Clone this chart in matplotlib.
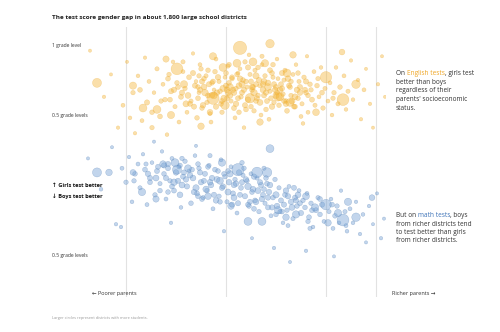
import matplotlib
matplotlib.use("Agg")
import matplotlib.pyplot as plt

plt.rcParams['font.family'] = ['Open Sans', 'DejaVu Sans']

# English tests: socioeconomic status, gap in grade levels (+ = girls better), students (thousands)
eng_ses = [
    -2.36, -2.22, -2.15, -2.08, -2.03, -1.99, -1.96, -1.93, -1.91, -1.88,
    -1.86, -1.84, -1.81, -1.79, -1.77, -1.74, -1.72, -1.69, -1.66, -1.63,
    -1.61, -1.59, -1.57, -1.55, -1.53, -1.51, -1.49, -1.47, -1.45, -1.43,
    -1.41, -1.39, -1.37, -1.35, -1.33, -1.31, -1.29, -1.27, -1.25, -1.23,
    -1.30, -1.28, -1.26, -1.24, -1.22, -1.20, -1.18, -1.16, -1.14, -1.12,
    -1.19, -1.17, -1.15, -1.11, -1.09, -1.07, -1.05, -1.03, -1.01, -0.99,
    -1.10, -1.06, -1.04, -1.00, -0.98, -0.96, -0.94, -0.92, -0.90, -0.88,
    -0.97, -0.95, -0.93, -0.91, -0.89, -0.87, -0.85, -0.83, -0.81, -0.79,
    -0.86, -0.84, -0.82, -0.80, -0.78, -0.76, -0.74, -0.72, -0.70, -0.68,
    -0.77, -0.75, -0.73, -0.71, -0.69, -0.67, -0.65, -0.63, -0.61, -0.59,
    -0.66, -0.64, -0.62, -0.60, -0.58, -0.56, -0.54, -0.52, -0.50, -0.48,
    -0.57, -0.55, -0.53, -0.51, -0.49, -0.47, -0.45, -0.43, -0.41, -0.39,
    -0.44, -0.42, -0.40, -0.37, -0.35, -0.33, -0.31, -0.29, -0.27, -0.25,
    -0.30, -0.28, -0.26, -0.24, -0.22, -0.20, -0.18, -0.16, -0.14, -0.12,
    -0.23, -0.19, -0.15, -0.11, -0.09, -0.07, -0.05, -0.03, -0.01, 0.02,
    0.04, 0.06, 0.08, 0.10, 0.12, 0.14, 0.18, 0.20, 0.22, 0.25,
    0.27, 0.32, 0.35, 0.38, 0.40, 0.44, 0.47, 0.52, 0.56, 0.59,
    -1.38, -1.21, -1.08, -0.96, -0.84, -0.72, -0.62, -0.50, -0.38, -0.26,
    -1.33, -1.16, -1.02, -0.90, -0.78, -0.66, -0.54, -0.44, -0.34, -0.20,
    -1.52, -1.40, -1.24, -1.12, -0.98, -0.86, -0.70, -0.58, -0.46, -0.31,
    -1.65, -1.48, -1.32, -1.18, -1.04, -0.92, -0.80, -0.68, -0.52, -0.36,
    -1.58, -1.44, -1.28, -1.14, -1.00, -0.88, -0.74, -0.60, -0.42, -0.18,
    -1.36, -1.22, -1.10, -0.94, -0.82, -0.70, -0.56, -0.40, -0.28, -0.08,
    -1.26, -1.13, -0.99, -0.87, -0.75, -0.63, -0.49, -0.35, -0.21, -0.04,
    -1.74, -1.56, -1.43, -1.27, -0.97, -0.81, -0.64, -0.53, -0.32, 0.07,
    -0.86, -0.56, -1.49, -2.29, 0.00, 0.30, 0.17, -1.13, -0.76, -0.73,
    -0.48, -0.36, -1.13, -1.03, -0.89, -0.39, -0.33, -1.93, -1.83, -1.69,
    -0.46, -1.01, -0.61, -1.42, -1.55, -1.25, 0.16, -0.10, -1.60, -0.66,
]
eng_gap = [
    0.96, 0.63, 0.79, 0.41, 0.57, 0.88, 0.48, 0.66, 0.37, 0.78,
    0.68, 0.46, 0.91, 0.59, 0.74, 0.41, 0.66, 0.83, 0.49, 0.72,
    0.61, 0.36, 0.79, 0.67, 0.88, 0.56, 0.73, 0.45, 0.63, 0.81,
    0.69, 0.52, 0.77, 0.60, 0.94, 0.71, 0.48, 0.66, 0.83, 0.57,
    0.74, 0.62, 0.86, 0.55, 0.70, 0.78, 0.64, 0.51, 0.73, 0.68,
    0.59, 0.72, 0.45, 0.81, 0.66, 0.74, 0.58, 0.69, 0.77, 0.62,
    0.90, 0.67, 0.52, 0.71, 0.85, 0.64, 0.76, 0.55, 0.69, 0.80,
    0.73, 0.60, 0.68, 0.48, 0.79, 0.71, 0.63, 0.75, 0.57, 0.70,
    0.83, 0.66, 0.41, 0.74, 0.61, 0.79, 0.68, 0.53, 0.72, 0.64,
    0.93, 0.56, 0.70, 0.82, 0.62, 0.75, 0.50, 0.68, 0.78, 0.60,
    0.71, 0.86, 0.64, 0.54, 0.73, 0.67, 0.80, 0.59, 0.70, 0.76,
    0.47, 0.62, 0.77, 0.68, 0.90, 0.57, 0.72, 0.65, 0.82, 0.53,
    0.69, 0.75, 0.60, 0.71, 0.64, 0.79, 0.56, 0.68, 0.74, 0.49,
    0.86, 0.62, 0.70, 0.58, 0.77, 0.66, 0.52, 0.72, 0.61, 0.81,
    0.44, 0.92, 0.68, 0.57, 0.71, 0.63, 0.84, 0.55, 0.69, 0.60,
    0.73, 0.50, 0.66, 0.84, 0.58, 0.70, 0.78, 0.54, 0.67, 0.89,
    0.61, 0.75, 0.47, 0.68, 0.83, 0.58, 0.41, 0.72, 0.92, 0.63,
    0.64, 0.66, 0.77, 0.70, 0.72, 0.66, 0.74, 0.64, 0.76, 0.66,
    0.80, 0.52, 0.62, 0.58, 0.84, 0.59, 0.56, 0.80, 0.60, 0.74,
    0.68, 0.58, 0.74, 0.64, 0.66, 0.76, 0.78, 0.70, 0.68, 0.63,
    0.60, 0.70, 0.56, 0.82, 0.60, 0.66, 0.54, 0.84, 0.72, 0.70,
    0.76, 0.66, 0.70, 0.64, 0.80, 0.62, 0.70, 0.66, 0.60, 0.64,
    0.58, 0.76, 0.56, 0.77, 0.68, 0.60, 0.82, 0.58, 0.80, 0.76,
    0.68, 0.74, 0.68, 0.52, 0.74, 0.72, 0.66, 0.74, 0.68, 0.66,
    0.52, 0.61, 0.88, 0.78, 0.86, 0.88, 0.92, 0.86, 0.56, 0.62,
    0.98, 1.01, 0.83, 0.73, 0.77, 0.72, 0.61, 0.62, 0.62, 0.88,
    0.63, 0.59, 0.92, 0.84, 0.87, 0.80, 0.93, 0.71, 0.55, 0.54,
    0.63, 0.57, 0.87, 0.72, 0.50, 0.42, 0.95, 0.52, 0.90, 0.45,
]
eng_students = [
    3, 4, 3, 4, 6, 3, 5, 8, 4, 5,
    10, 6, 4, 12, 6, 8, 5, 7, 10, 6,
    9, 5, 8, 12, 5, 7, 9, 6, 11, 6,
    8, 6, 10, 7, 4, 12, 9, 6, 8, 14,
    5, 10, 6, 9, 15, 7, 11, 6, 9, 5,
    8, 12, 6, 9, 14, 7, 10, 18, 6, 11,
    6, 9, 8, 12, 7, 15, 9, 11, 8, 6,
    10, 7, 13, 6, 9, 16, 8, 10, 12, 7,
    6, 11, 5, 9, 14, 7, 10, 8, 12, 9,
    5, 9, 12, 7, 10, 13, 6, 15, 8, 11,
    8, 6, 11, 9, 14, 7, 10, 8, 12, 6,
    6, 10, 7, 13, 5, 9, 11, 8, 7, 10,
    12, 7, 9, 11, 8, 6, 10, 14, 7, 6,
    5, 9, 12, 7, 8, 10, 6, 9, 11, 6,
    5, 4, 8, 7, 9, 6, 5, 8, 7, 6,
    6, 5, 8, 5, 7, 9, 6, 5, 7, 4,
    5, 4, 4, 6, 3, 4, 3, 4, 3, 3,
    16, 20, 14, 22, 18, 20, 16, 18, 15, 14,
    12, 15, 18, 14, 12, 16, 14, 12, 17, 12,
    13, 17, 12, 20, 16, 14, 18, 22, 14, 16,
    8, 10, 12, 9, 11, 14, 10, 9, 12, 10,
    10, 12, 9, 13, 10, 11, 14, 12, 10, 9,
    11, 9, 13, 10, 12, 9, 11, 13, 9, 8,
    12, 10, 15, 9, 11, 13, 10, 9, 12, 10,
    9, 10, 7, 8, 9, 8, 7, 9, 10, 8,
    90, 35, 70, 40, 65, 35, 70, 75, 45, 30,
    35, 30, 25, 30, 30, 30, 20, 25, 30, 30,
    30, 35, 25, 25, 25, 20, 15, 22, 18, 20,
]

# Math tests
math_ses = [
    -2.38, -2.25, -2.14, -2.10, -2.04, -2.00, -1.97, -1.94, -1.91, -1.88,
    -1.86, -1.83, -1.81, -1.79, -1.76, -1.74, -1.71, -1.69, -1.66, -1.64,
    -1.62, -1.60, -1.58, -1.56, -1.54, -1.52, -1.50, -1.47, -1.45, -1.43,
    -1.41, -1.39, -1.37, -1.35, -1.33, -1.31, -1.29, -1.27, -1.25, -1.23,
    -1.21, -1.19, -1.17, -1.15, -1.13, -1.11, -1.09, -1.07, -1.05, -1.03,
    -1.01, -0.99, -0.97, -0.95, -0.93, -0.91, -0.89, -0.87, -0.85, -0.83,
    -0.81, -0.79, -0.77, -0.75, -0.73, -0.71, -0.69, -0.67, -0.65, -0.63,
    -0.61, -0.59, -0.57, -0.55, -0.53, -0.51, -0.49, -0.47, -0.45, -0.43,
    -0.41, -0.39, -0.37, -0.35, -0.33, -0.31, -0.29, -0.27, -0.25, -0.23,
    -0.21, -0.19, -0.17, -0.15, -0.13, -0.10, -0.08, -0.06, -0.04, -0.02,
    0.03, 0.05, 0.07, 0.09, 0.11, 0.13, 0.15, 0.19, 0.21, 0.24,
    0.27, 0.30, 0.34, 0.37, 0.40, 0.43, 0.47, 0.51, 0.55, 0.58,
    -2.05, -1.72, -1.55, -1.30, -1.02, -0.74, -0.52, -0.36, -0.20, 0.08,
    -1.70, -1.52, -1.36, -1.20, -1.06, -0.92, -0.78, -0.64, -0.50, -0.34,
    -1.62, -1.46, -1.30, -1.14, -0.98, -0.84, -0.70, -0.56, -0.42, -0.28,
    -1.78, -1.58, -1.44, -1.26, -1.10, -0.96, -0.80, -0.68, -0.54, -0.40,
    -1.76, -1.60, -1.46, -1.32, -1.18, -1.04, -0.90, -0.76, -0.62, -0.44,
    -1.68, -1.54, -1.40, -1.28, -1.12, -0.98, -0.86, -0.72, -0.58, -0.26,
    -1.58, -1.42, -1.28, -1.16, -1.02, -0.88, -0.74, -0.58, -0.38, -0.14,
    -1.48, -1.34, -1.22, -1.06, -0.92, -0.78, -0.66, -0.50, -0.30, 0.06,
    -1.92, -1.80, -1.66, -1.44, -1.16, -0.84, -0.62, -0.38, -0.16, 0.20,
    -2.29, -2.17, -1.49, -1.84, -1.93, -0.56, -0.88, -0.69, -0.59, -1.04,
    -0.78, -0.64, -0.48, 0.00, 0.17, 0.30, 0.22, 0.46, -0.11, 0.02,
    -1.51, -1.63, -1.38, -1.18, -0.30, -0.20, -0.95, -1.70, -0.40, 0.12,
    -1.24, -1.08, -0.94, -0.82, -0.72, -0.60, -0.46, -0.32, -0.18, -0.06,
]
math_gap = [
    0.19, -0.03, 0.27, -0.28, 0.12, 0.02, 0.20, -0.12, 0.08, 0.15,
    -0.02, 0.22, 0.11, -0.14, 0.05, 0.16, -0.07, 0.10, 0.01, 0.24,
    0.08, -0.10, 0.15, 0.03, 0.19, -0.04, 0.09, 0.13, -0.16, 0.06,
    0.17, -0.01, 0.10, -0.13, 0.05, 0.21, -0.06, 0.12, 0.02, -0.09,
    0.08, -0.04, 0.14, 0.00, -0.17, 0.11, 0.04, -0.08, 0.18, -0.01,
    0.06, -0.12, 0.02, 0.13, -0.06, 0.04, -0.20, 0.09, -0.02, 0.07,
    -0.08, 0.03, -0.15, 0.08, -0.03, -0.11, 0.05, -0.19, 0.00, -0.07,
    -0.13, 0.01, -0.05, -0.22, -0.09, 0.04, -0.15, -0.02, -0.11, -0.27,
    -0.07, -0.18, -0.01, -0.12, -0.24, -0.09, -0.15, -0.04, -0.20, -0.11,
    -0.16, -0.06, -0.23, -0.13, -0.30, -0.18, -0.09, -0.21, -0.14, -0.26,
    -0.19, -0.10, -0.31, -0.22, -0.15, -0.27, -0.04, -0.19, -0.33, -0.17,
    -0.27, -0.12, -0.35, -0.21, -0.41, -0.15, -0.28, -0.06, -0.38, -0.24,
    -0.30, 0.31, -0.27, 0.28, -0.33, -0.38, -0.45, -0.55, -0.47, -0.51,
    0.05, 0.02, 0.07, -0.03, 0.03, -0.09, -0.01, -0.10, -0.07, -0.16,
    0.14, -0.07, -0.02, 0.05, -0.05, 0.02, -0.12, 0.00, -0.14, -0.07,
    0.08, 0.12, 0.00, 0.09, -0.11, 0.08, 0.04, -0.04, -0.16, -0.04,
    0.02, 0.05, 0.14, -0.05, 0.13, -0.02, 0.01, -0.12, -0.03, -0.19,
    0.13, -0.01, 0.04, 0.15, -0.07, 0.10, -0.07, 0.06, -0.09, -0.13,
    -0.05, 0.09, -0.08, 0.02, 0.08, -0.13, -0.05, -0.16, -0.08, -0.18,
    0.03, 0.11, 0.03, -0.12, 0.00, -0.14, 0.02, -0.21, -0.11, -0.14,
    0.03, 0.15, -0.04, 0.19, 0.21, 0.16, 0.12, -0.29, -0.31, -0.29,
    0.09, 0.09, 0.11, -0.05, 0.09, 0.26, 0.11, 0.09, 0.09, 0.16,
    -0.26, -0.26, -0.18, -0.14, -0.25, -0.23, -0.12, -0.09, -0.16, -0.27,
    0.16, 0.15, 0.12, -0.08, -0.21, -0.08, -0.15, -0.10, -0.23, -0.20,
    -0.10, 0.10, -0.14, 0.12, -0.17, 0.05, -0.19, -0.02, -0.26, -0.10,
]
math_students = [
    3, 5, 3, 4, 6, 8, 4, 5, 9, 6,
    7, 4, 10, 6, 12, 5, 8, 11, 7, 4,
    9, 6, 12, 8, 6, 10, 14, 7, 5, 11,
    8, 12, 6, 9, 15, 5, 10, 8, 13, 7,
    11, 9, 7, 14, 6, 10, 16, 8, 6, 12,
    9, 7, 14, 6, 11, 8, 6, 13, 10, 7,
    12, 8, 9, 6, 15, 10, 7, 8, 12, 11,
    7, 10, 13, 6, 9, 8, 14, 7, 11, 5,
    10, 8, 6, 13, 7, 11, 9, 6, 12, 8,
    9, 6, 10, 8, 5, 11, 7, 9, 12, 6,
    7, 5, 6, 9, 8, 5, 4, 7, 5, 6,
    5, 4, 4, 5, 3, 4, 3, 3, 4, 3,
    4, 3, 4, 3, 4, 3, 4, 3, 4, 3,
    16, 20, 14, 18, 22, 16, 20, 14, 18, 16,
    12, 15, 18, 13, 17, 12, 15, 14, 12, 15,
    13, 11, 16, 12, 14, 18, 13, 16, 12, 14,
    10, 12, 9, 13, 10, 12, 14, 11, 10, 9,
    11, 10, 13, 9, 12, 10, 11, 13, 12, 10,
    9, 11, 10, 14, 9, 12, 10, 11, 13, 10,
    12, 10, 11, 9, 13, 10, 12, 9, 11, 10,
    8, 7, 9, 8, 7, 8, 7, 6, 7, 6,
    40, 20, 40, 25, 15, 30, 75, 55, 45, 25,
    30, 30, 25, 55, 70, 35, 25, 15, 25, 20,
    30, 20, 22, 20, 25, 22, 20, 18, 20, 25,
    10, 9, 11, 8, 10, 9, 7, 11, 8, 10,
]

grid_ses = [-2, -1, 0, 0.5]

ORANGE = '#f4b535'
BLUE = '#7aa5d6'
W, H = 500, 332


def fx(px):
    return px / W


def fy(py):
    return 1 - py / H


fig = plt.figure(figsize=(5, 3.32), dpi=100)
ax = fig.add_axes([fx(86), 35 / H, 300 / W, 270 / H])
ax.set_xlim(-2.4, 0.6)
ax.set_ylim(-0.8, 1.129)
ax.axis('off')

for g in grid_ses:
    ax.axvline(g, color='#e2e2e2', lw=0.8, zorder=0)

ax.scatter(eng_ses, eng_gap, s=[2.5 + 1.0 * v for v in eng_students],
           color=ORANGE, alpha=0.42, edgecolors='#eba423', linewidths=0.3)
ax.scatter(math_ses, math_gap, s=[2.5 + 1.0 * v for v in math_students],
           color=BLUE, alpha=0.46, edgecolors='#4a78b0', linewidths=0.3)

# title and left labels
fig.text(fx(52), fy(18), "The test score gender gap in about 1,800 large school districts",
         fontsize=4.6, fontweight='bold', color='#222222', va='center')
lab = dict(fontsize=3.6, color='#333333', va='center')
fig.text(fx(52), fy(45), "1 grade level", **lab)
fig.text(fx(52), fy(115), "0.5 grade levels", **lab)
fig.text(fx(52), fy(255), "0.5 grade levels", **lab)
fig.text(fx(52), fy(185), "\u2191 Girls test better", fontsize=4.1, fontweight='bold',
         color='#111111', va='center')
fig.text(fx(52), fy(196), "\u2193 Boys test better", fontsize=4.1, fontweight='bold',
         color='#111111', va='center')

fig.text(fx(92), fy(293), "\u2190 Poorer parents", fontsize=4.0, color='#333333', va='center')
fig.text(fx(392), fy(293), "Richer parents \u2192", fontsize=4.0, color='#333333', va='center')
fig.text(fx(52), fy(318), "Larger circles represent districts with more students.",
         fontsize=2.8, color='#999999', va='center')

# annotations on the right
note = dict(fontsize=4.7, color='#333333', va='bottom')
t = fig.text(fx(396), fy(77), "On ", **note)
t = ax.annotate("English tests", xy=(1, 0), xycoords=t, color='#f0a726',
                fontsize=4.7, va='bottom')
ax.annotate(", girls test", xy=(1, 0), xycoords=t, **note)
for i, line in enumerate(["better than boys", "regardless of their",
                          "parents' socioeconomic", "status."]):
    fig.text(fx(396), fy(86 + 8.5 * i), line, **note)

t = fig.text(fx(396), fy(219), "But on ", **note)
t = ax.annotate("math tests", xy=(1, 0), xycoords=t, color='#3f74b8',
                fontsize=4.7, va='bottom')
ax.annotate(", boys", xy=(1, 0), xycoords=t, **note)
for i, line in enumerate(["from richer districts tend", "to test better than girls",
                          "from richer districts."]):
    fig.text(fx(396), fy(227.5 + 8.5 * i), line, **note)

fig.savefig("out.png", dpi=100)
